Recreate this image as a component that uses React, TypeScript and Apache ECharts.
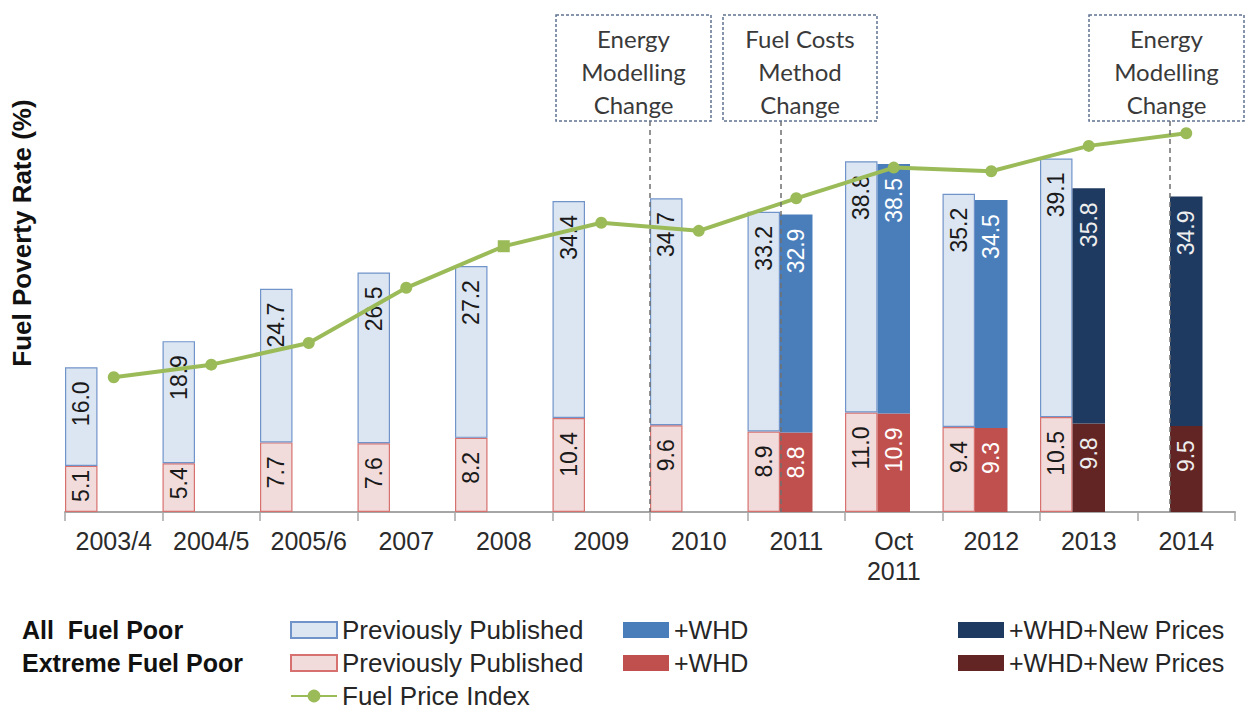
import React, { useEffect, useRef } from "react";
import * as echarts from "echarts";

const categories = ["2003/4", "2004/5", "2005/6", "2007", "2008", "2009", "2010", "2011", "Oct\n2011", "2012", "2013", "2014"];
const allPrevious = [16.0, 18.9, 24.7, 26.5, 27.2, 34.4, 34.7, 33.2, 38.8, 35.2, 39.1, null];
const extremePrevious = [5.1, 5.4, 7.7, 7.6, 8.2, 10.4, 9.6, 8.9, 11.0, 9.4, 10.5, null];
const allWHD = [null, null, null, null, null, null, null, 32.9, 38.5, 34.5, null, null];
const extremeWHD = [null, null, null, null, null, null, null, 8.8, 10.9, 9.3, null, null];
const allNewPrices = [null, null, null, null, null, null, null, null, null, null, 35.8, 34.9];
const extremeNewPrices = [null, null, null, null, null, null, null, null, null, null, 9.8, 9.5];
const fuelPriceIndex = [14.9, 16.3, 18.7, 24.8, 29.4, 32.0, 31.1, 34.7, 38.1, 37.7, 40.5, 41.9];

const annotations = [
  { text: "Energy\nModelling\nChange" },
  { text: "Fuel Costs\nMethod\nChange" },
  { text: "Energy\nModelling\nChange" },
];

const N = {
  allPrev: "All Fuel Poor – Previously Published",
  allWHD: "All Fuel Poor – +WHD",
  allNew: "All Fuel Poor – +WHD+New Prices",
  extPrev: "Extreme Fuel Poor – Previously Published",
  extWHD: "Extreme Fuel Poor – +WHD",
  extNew: "Extreme Fuel Poor – +WHD+New Prices",
  fuel: "Fuel Price Index",
};

const diff = (a: (number | null)[], b: (number | null)[]) =>
  a.map((v, i) => (v == null ? null : +(v - (b[i] as number)).toFixed(2)));

// short segments get their label closer to the top edge
const withShortLabels = (vals: (number | null)[]) =>
  vals.map((v) => (v != null && v < 6 ? { value: v, label: { distance: 4 } } : v));

const FONT = "'Liberation Sans', Arial, sans-serif";

function barLabel(values: (number | null)[], color: string) {
  return {
    show: true,
    position: "insideTop",
    rotate: 90,
    align: "right",
    verticalAlign: "middle",
    distance: 14,
    color,
    fontFamily: FONT,
    fontSize: 23,
    formatter: (p: any) => {
      const v = values[p.dataIndex];
      return v == null ? "" : v.toFixed(1);
    },
  };
}

export default function App() {
  const ref = useRef<HTMLDivElement>(null);
  useEffect(() => {
    if (!ref.current) return;
    const chart = echarts.init(ref.current, null, { renderer: "svg" });
    const legendFormatter = (name: string) => name.split(" – ").pop() as string;
    const legendBase = {
      orient: "vertical",
      top: 617,
      padding: 0,
      itemWidth: 46,
      itemHeight: 16,
      itemGap: 7,
      formatter: legendFormatter,
      textStyle: { fontFamily: FONT, fontSize: 25, color: "#262626", lineHeight: 26 },
      selectedMode: false,
    };
    const boxes = [
      { x: 556, w: 155, line: 650 },
      { x: 723, w: 154, line: 781 },
      { x: 1089, w: 155, line: 1170 },
    ];
    const graphic: any[] = [
      {
        type: "text",
        x: 22,
        y: 233,
        rotation: Math.PI / 2,
        style: {
          text: "Fuel Poverty Rate (%)",
          font: `bold 26px ${FONT}`,
          fill: "#111",
          align: "center",
          verticalAlign: "middle",
        },
      },
      {
        type: "text",
        x: 22,
        y: 630,
        style: { text: "All  Fuel Poor", font: `bold 25px ${FONT}`, fill: "#111", verticalAlign: "middle" },
      },
      {
        type: "text",
        x: 22,
        y: 663,
        style: { text: "Extreme Fuel Poor", font: `bold 25px ${FONT}`, fill: "#111", verticalAlign: "middle" },
      },
    ];
    boxes.forEach((b, i) => {
      graphic.push({
        type: "line",
        z: 10,
        shape: { x1: b.line, y1: 121, x2: b.line, y2: 512 },
        style: { stroke: "#6f6f6f", lineWidth: 1.5, lineDash: [5, 4] },
      });
      graphic.push({
        type: "rect",
        z: 10,
        shape: { x: b.x, y: 15, width: b.w, height: 106 },
        style: { fill: "#fff", stroke: "#5f7391", lineWidth: 1.5, lineDash: [3, 2] },
      });
      graphic.push({
        type: "text",
        z: 11,
        x: b.x + b.w / 2,
        y: 71,
        style: {
          text: annotations[i].text,
          font: "24px Lato, 'Open Sans', sans-serif",
          lineHeight: 33,
          fill: "#3a3a3a",
          align: "center",
          verticalAlign: "middle",
        },
      });
    });

    chart.setOption({
      animation: false,
      grid: { left: 65, right: 24, top: 60, bottom: 209 },
      xAxis: {
        type: "category",
        data: categories,
        axisLine: { lineStyle: { color: "#a6a6a6", width: 2 } },
        axisTick: { show: true, length: 9, lineStyle: { color: "#a6a6a6", width: 1.5 } },
        axisLabel: { color: "#2b2b2b", fontFamily: FONT, fontSize: 25, lineHeight: 30, margin: 14, interval: 0 },
      },
      yAxis: [
        { type: "value", min: 0, max: 50, show: false, splitLine: { show: false } },
        { type: "value", min: 0, max: 50, show: false, splitLine: { show: false } },
      ],
      legend: [
        {
          ...legendBase,
          left: 290,
          textStyle: { ...legendBase.textStyle, fontSize: 26 },
          data: [{ name: N.allPrev, icon: "rect" }, { name: N.extPrev, icon: "rect" }, { name: N.fuel }],
        },
        { ...legendBase, left: 623, data: [{ name: N.allWHD, icon: "rect" }, { name: N.extWHD, icon: "rect" }] },
        { ...legendBase, left: 958, data: [{ name: N.allNew, icon: "rect" }, { name: N.extNew, icon: "rect" }] },
      ],
      graphic,
      series: [
        {
          name: N.extPrev,
          type: "bar",
          stack: "prev",
          barGap: "0%",
          barCategoryGap: "0%",
          data: withShortLabels(extremePrevious),
          itemStyle: { color: "#f2dcdb", borderColor: "#d6716f", borderWidth: 1.2 },
          label: barLabel(extremePrevious, "#1a1a1a"),
        },
        {
          name: N.allPrev,
          type: "bar",
          stack: "prev",
          data: diff(allPrevious, extremePrevious),
          itemStyle: { color: "#dce6f2", borderColor: "#7094c9", borderWidth: 1.2 },
          label: barLabel(allPrevious, "#1a1a1a"),
        },
        {
          name: N.extWHD,
          type: "bar",
          stack: "whd",
          data: extremeWHD,
          itemStyle: { color: "#c0504d" },
          label: barLabel(extremeWHD, "#ffffff"),
        },
        {
          name: N.extNew,
          type: "bar",
          stack: "whd",
          data: extremeNewPrices,
          itemStyle: { color: "#632523" },
          label: barLabel(extremeNewPrices, "#eeeeee"),
        },
        {
          name: N.allWHD,
          type: "bar",
          stack: "whd",
          data: diff(allWHD, extremeWHD),
          itemStyle: { color: "#4a7ebb" },
          label: barLabel(allWHD, "#ffffff"),
        },
        {
          name: N.allNew,
          type: "bar",
          stack: "whd",
          data: diff(allNewPrices, extremeNewPrices),
          itemStyle: { color: "#1f3a60" },
          label: barLabel(allNewPrices, "#eeeeee"),
        },
        {
          name: "pad",
          type: "bar",
          stack: "pad",
          data: categories.map(() => null),
        },
        {
          name: N.fuel,
          type: "line",
          yAxisIndex: 1,
          z: 5,
          data: fuelPriceIndex.map((v, i) => (categories[i] === "2008" ? { value: v, symbol: "rect" } : v)),
          symbol: "circle",
          symbolSize: 12,
          lineStyle: { color: "#9bbb59", width: 4 },
          itemStyle: { color: "#9bbb59" },
        },
      ],
    });
    return () => chart.dispose();
  }, []);
  return <div ref={ref} style={{ position: "absolute", left: 0, top: 0, width: 1259, height: 721 }} />;
}
